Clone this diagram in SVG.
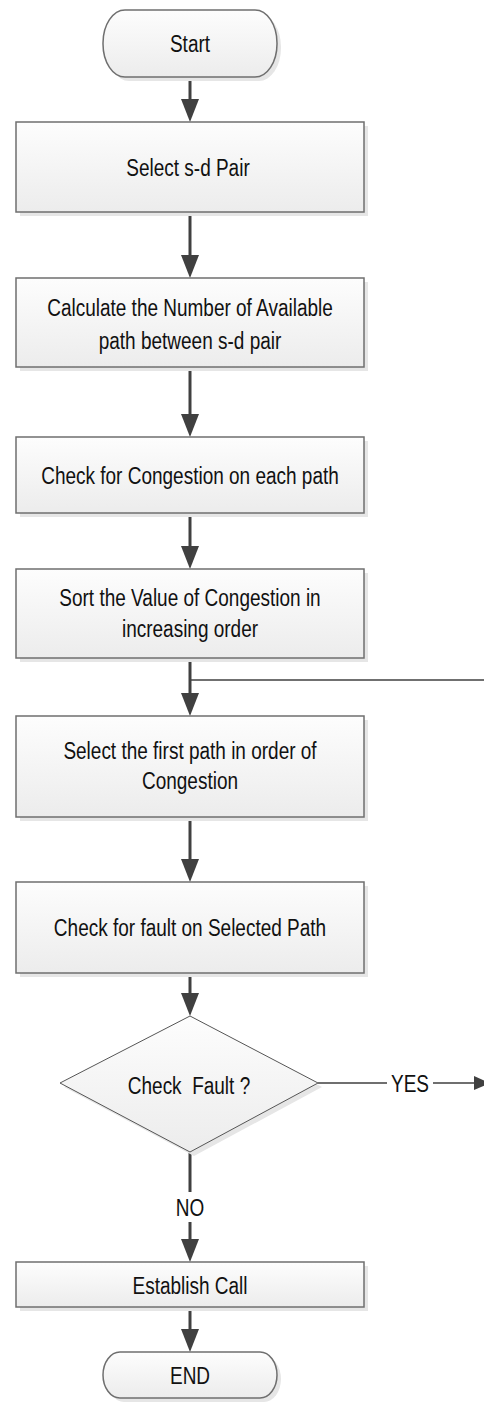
<svg xmlns="http://www.w3.org/2000/svg" width="484" height="1404" viewBox="0 0 484 1404">
<style>
.box{fill:url(#g);stroke:#6f6f6f;stroke-width:1.5}
.sh{fill:#e6e6e6}
.t{font-family:"Liberation Sans",Arial,sans-serif;font-size:19px;fill:#111;text-anchor:middle;white-space:pre}
.c{fill:none;stroke:#404040;stroke-width:3}
.ct{fill:none;stroke:#404040;stroke-width:1.6}
</style>
<defs>
<linearGradient id="g" x1="0" y1="0" x2="0" y2="1">
<stop offset="0" stop-color="#fdfdfd"/>
<stop offset="1" stop-color="#ececec"/>
</linearGradient>
<marker id="ah" markerUnits="userSpaceOnUse" markerWidth="24" markerHeight="20" refX="13" refY="9" orient="auto">
<path d="M0,0 L23,9 L0,18 z" fill="#404040"/>
</marker>
<marker id="ahs" markerUnits="userSpaceOnUse" markerWidth="18" markerHeight="16" refX="8" refY="7" orient="auto">
<path d="M0,0 L16,7 L0,14 z" fill="#404040"/>
</marker>
</defs>

<g id="connectors">
<path class="c" d="M190,77 V112" marker-end="url(#ah)"/>
<path class="c" d="M190,212 V268" marker-end="url(#ah)"/>
<path class="c" d="M190,367 V427" marker-end="url(#ah)"/>
<path class="c" d="M190,513 V559" marker-end="url(#ah)"/>
<path class="c" d="M190,658 V706" marker-end="url(#ah)"/>
<path class="ct" d="M190,680 H484"/>
<path class="c" d="M190,817 V872" marker-end="url(#ah)"/>
<path class="c" d="M190,973 V1006" marker-end="url(#ah)"/>
<path class="c" d="M190,1152 V1192 M190,1222 V1252" marker-end="url(#ah)"/>
<path class="c" d="M190,1307 V1342" marker-end="url(#ah)"/>
<path class="ct" d="M318,1083 H387 M433,1083 H482" marker-end="url(#ahs)"/>
<text class="t" transform="translate(410,1083) scale(1,1.3)" y="6.6">YES</text>
<text class="t" transform="translate(190,1207) scale(1,1.3)" y="6.6">NO</text>
</g>

<g id="start">
<rect class="sh" x="107" y="14" width="174" height="67" rx="22" ry="33"/>
<rect class="box" x="103" y="10" width="174" height="67" rx="22" ry="33"/>
<text class="t" transform="translate(190,43) scale(1,1.3)" y="6.6">Start</text>
</g>

<g id="select-pair">
<rect class="sh" x="20" y="126" width="348" height="90"/>
<rect class="box" x="16" y="122" width="348" height="90"/>
<text class="t" transform="translate(188,167) scale(1,1.3)" y="6.6">Select s-d Pair</text>
</g>

<g id="calc-paths">
<rect class="sh" x="20" y="282" width="348" height="89"/>
<rect class="box" x="16" y="278" width="348" height="89"/>
<text class="t" transform="translate(190,307) scale(1,1.3)"><tspan x="0" y="6.6">Calculate the Number of Available</tspan><tspan x="0" y="32">path between s-d pair</tspan></text>
</g>

<g id="check-congestion">
<rect class="sh" x="20" y="441" width="348" height="76"/>
<rect class="box" x="16" y="437" width="348" height="76"/>
<text class="t" transform="translate(190,475) scale(1,1.3)" y="6.6">Check for Congestion on each path</text>
</g>

<g id="sort">
<rect class="sh" x="20" y="573" width="348" height="89"/>
<rect class="box" x="16" y="569" width="348" height="89"/>
<text class="t" transform="translate(190,597) scale(1,1.3)"><tspan x="0" y="6.6">Sort the Value of Congestion in</tspan><tspan x="0" y="30.5">increasing order</tspan></text>
</g>

<g id="select-first">
<rect class="sh" x="20" y="720" width="348" height="101"/>
<rect class="box" x="16" y="716" width="348" height="101"/>
<text class="t" transform="translate(190,750) scale(1,1.3)"><tspan x="0" y="6.6">Select the first path in order of</tspan><tspan x="0" y="29.7">Congestion</tspan></text>
</g>

<g id="check-fault-path">
<rect class="sh" x="20" y="886" width="348" height="91"/>
<rect class="box" x="16" y="882" width="348" height="91"/>
<text class="t" transform="translate(190,927) scale(1,1.3)" y="6.6">Check for fault on Selected Path</text>
</g>

<g id="decision">
<polygon class="sh" points="194,1020 322,1087 194,1156 64,1087"/>
<polygon points="190,1016 318,1083 190,1152 60,1083" fill="url(#g)" stroke="#555" stroke-width="1"/>
<text class="t" transform="translate(189,1085) scale(1,1.3)" y="6.6">Check  Fault ?</text>
</g>

<g id="establish">
<rect class="sh" x="20" y="1266" width="348" height="45"/>
<rect class="box" x="16" y="1262" width="348" height="45"/>
<text class="t" transform="translate(190,1285) scale(1,1.3)" y="6.6">Establish Call</text>
</g>

<g id="end">
<rect class="sh" x="107" y="1356" width="174" height="46" rx="17" ry="23"/>
<rect class="box" x="103" y="1352" width="174" height="46" rx="17" ry="23"/>
<text class="t" transform="translate(190,1375) scale(1,1.3)" y="6.6">END</text>
</g>
</svg>
